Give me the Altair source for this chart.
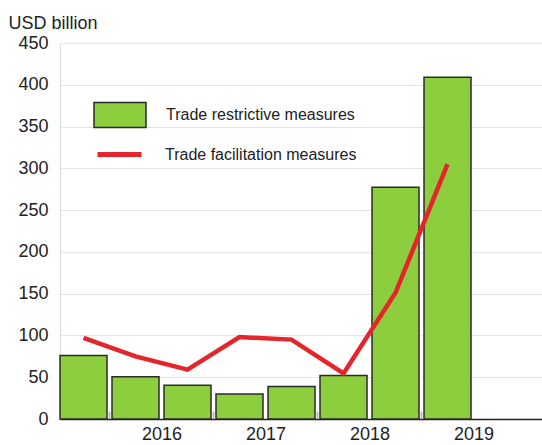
import altair as alt
import pandas as pd

# Data (half-year periods)
period_idx = [0, 1, 2, 3, 4, 5, 6, 7]
restrictive = [76, 50.5, 40.5, 30, 39, 52, 277.5, 409]
facilitation = [97, 75, 59, 98, 95, 54.5, 151, 305]
year_labels = ["2016", "2017", "2018", "2019"]
year_positions = [2, 4, 6, 8]
midyear_ticks = [1, 3, 5, 7]

bar_name = "Trade restrictive measures"
line_name = "Trade facilitation measures"

GREEN = "#8dce3e"
RED = "#e3262c"
FONT = "Liberation Sans"

df = pd.DataFrame({
    "idx": period_idx,
    "restrictive": restrictive,
    "facilitation": facilitation,
    "bar_series": [bar_name] * len(period_idx),
    "line_series": [line_name] * len(period_idx),
})
ticks_df = pd.DataFrame({"pos": midyear_ticks})

label_map = "{" + ",".join(f"'{p}':'{l}'" for p, l in zip(year_positions, year_labels)) + "}"

xscale = alt.Scale(domain=[0.048, 9.317], nice=False, zero=False)
yscale = alt.Scale(domain=[0, 450], nice=False)

base = alt.Chart(df)

bars = base.transform_calculate(
    x0="datum.idx + 0.048", x1="datum.idx + 0.952", base0="0"
).mark_bar(stroke="#2b2b2b", strokeWidth=1.5).encode(
    x=alt.X("x0:Q", scale=xscale,
            axis=alt.Axis(values=year_positions, labelExpr=f"{label_map}[datum.value]",
                          title=None, ticks=False, grid=False, domain=True,
                          domainColor="#222", domainWidth=1.5,
                          labelFontSize=18, labelFont=FONT, labelColor="#222",
                          labelPadding=6)),
    x2="x1:Q",
    y=alt.Y("restrictive:Q", scale=yscale,
            axis=alt.Axis(values=list(range(0, 451, 50)), title="USD billion",
                          titleAngle=0, titleAlign="left", titleBaseline="alphabetic",
                          titleX=-52, titleY=-15, titleFontSize=18, titleFontWeight="normal",
                          titleFont=FONT, titleColor="#222",
                          domain=False, ticks=False, grid=True, gridColor="#e4e4e4",
                          gridWidth=1, labelFontSize=18, labelFont=FONT,
                          labelColor="#222", labelPadding=12)),
    y2="base0:Q",
    fill=alt.Fill("bar_series:N", scale=alt.Scale(domain=[bar_name], range=[GREEN]),
                  legend=alt.Legend(orient="none", legendX=33, legendY=45, title=None,
                                    symbolType="M-1,-0.48L1,-0.48L1,0.48L-1,0.48Z",
                                    symbolSize=2704, symbolStrokeColor="#2b2b2b",
                                    symbolStrokeWidth=1.5, symbolOpacity=1,
                                    labelFontSize=16, labelFont=FONT, labelColor="#222",
                                    labelOffset=19, padding=0, labelLimit=400)),
)

minor = alt.Chart(ticks_df).transform_calculate(
    lo="0", hi="9"
).mark_rule(color="#aaaaaa", strokeWidth=1.5).encode(
    x=alt.X("pos:Q", scale=xscale),
    y=alt.Y("lo:Q", scale=yscale),
    y2="hi:Q",
)

line = base.transform_calculate(xc="datum.idx + 0.5").mark_line(strokeWidth=4.5).encode(
    x=alt.X("xc:Q", scale=xscale),
    y=alt.Y("facilitation:Q", scale=yscale),
    stroke=alt.Stroke("line_series:N", scale=alt.Scale(domain=[line_name], range=[RED]),
                      legend=alt.Legend(orient="none", legendX=35, legendY=87, title=None,
                                        symbolType="stroke", symbolSize=1936,
                                        symbolStrokeWidth=5, labelFontSize=16,
                                        labelFont=FONT, labelColor="#222",
                                        labelOffset=21, padding=0, labelLimit=400)),
)

chart = alt.layer(minor, bars, line).resolve_scale(fill="independent", stroke="independent").properties(
    width=482, height=376,
    autosize=alt.AutoSizeParams(type="none"),
    padding={"left": 60, "top": 43, "right": 0, "bottom": 26},
).configure_view(stroke=None).configure(background="white")

chart.save("out.html", embed_options={"renderer": "svg", "actions": False})
